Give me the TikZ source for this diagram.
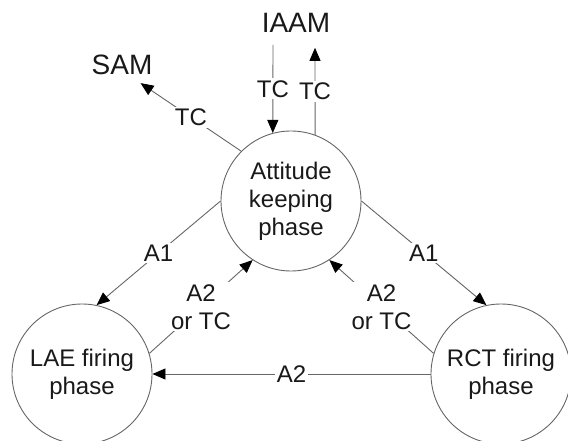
\documentclass[tikz,border=0pt]{standalone}
\usepackage{fontspec}
\setmainfont{Liberation Sans}
\usetikzlibrary{arrows.meta}
\begin{document}
\begin{tikzpicture}[x=1pt,y=-1pt,
  state/.style={circle,draw=black!60,line width=0.9pt,minimum size=140pt,inner sep=0pt,align=center,font=\fontsize{24}{28}\selectfont,text=black!90},
  big/.style={font=\fontsize{28}{32}\selectfont,text=black!90,inner sep=2pt},
  lab/.style={fill=white,font=\fontsize{24}{28}\selectfont,text=black!90,inner sep=2pt,align=center},
  arr/.style={draw=black!60,line width=0.9pt,-{Triangle[length=13pt,width=11pt,color=black]}}]
\useasboundingbox (0,0) rectangle (568,441);
\node[state] (att) at (291,201) {Attitude\\keeping\\phase};
\node[state] (LAE) at (82,374) {LAE firing\\phase};
\node[state] (RCT) at (501,374) {RCT firing\\phase};
\node[big] (SAM) at (122,65) {SAM};
\node[big] (IAAM) at (296,23) {IAAM};
% to SAM
\draw[arr] (att.135) -- node[lab]{TC} ([xshift=-14pt,yshift=-6pt]SAM.south east);
% IAAM links
\draw[arr] ([xshift=-23pt,yshift=-10pt]IAAM.south) -- node[lab]{TC} (att.105);
\draw[arr] (att.70) -- node[lab]{TC} ([xshift=19pt,yshift=-13pt]IAAM.south);
% A1 arrows
\draw[arr] (att.180) -- node[lab]{A1} (LAE.78);
\draw[arr] (att.0) -- node[lab]{A1} (RCT.102);
% A2 or TC back
\draw[arr] (LAE.17) -- node[lab]{A2\\or TC} (att.237);
\draw[arr] (RCT.163) -- node[lab]{A2\\or TC} (att.303);
% A2 horizontal
\draw[arr] (RCT.180) -- node[lab]{A2} (LAE.0);
\end{tikzpicture}
\end{document}
